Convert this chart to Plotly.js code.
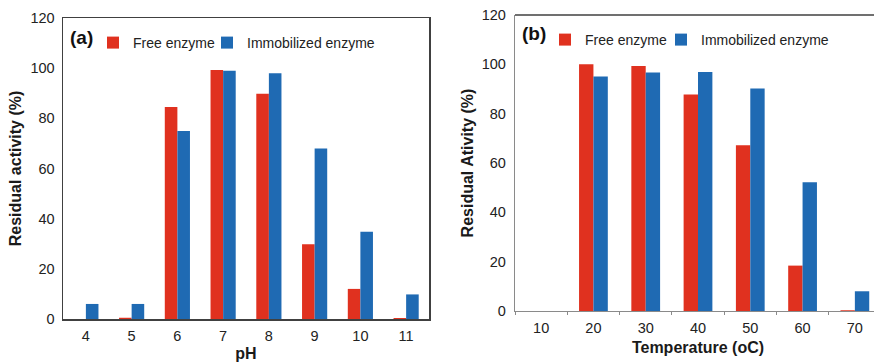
<!DOCTYPE html>
<html>
<head>
<meta charset="utf-8">
<script src="https://cdn.plot.ly/plotly-3.0.1.min.js"></script>
<style>
html,body{margin:0;padding:0;overflow:hidden;background:#fff;}
#chart{width:900px;height:362px;}
</style>
</head>
<body>
<div id="chart"></div>
<script>
// ---- data ----
const phCategories = ["4","5","6","7","8","9","10","11"];
const phFree = [0, 0.5, 84.5, 99.3, 89.8, 29.8, 12, 0.4];
const phImmobilized = [6, 6, 75, 99, 98, 68, 34.8, 9.8];

const tempCategories = ["10","20","30","40","50","60","70"];
const tempFree = [0, 100, 99.3, 87.8, 67.2, 18.4, 0.3];
const tempImmobilized = [0, 95.1, 96.7, 96.9, 90.2, 52.2, 8];

const seriesNames = ["Free enzyme", "Immobilized enzyme"];
const yTicks = [0, 20, 40, 60, 80, 100, 120];

// ---- style ----
const RED = "#e0311f";
const BLUE = "#1f6ab3";
const FONT = "Liberation Sans, Arial, sans-serif";
const W = 900, H = 362;

const traces = [
  {type:"bar", x:phCategories, y:phFree, name:seriesNames[0], marker:{color:RED}, xaxis:"x", yaxis:"y", legend:"legend", showlegend:true},
  {type:"bar", x:phCategories, y:phImmobilized, name:seriesNames[1], marker:{color:BLUE}, xaxis:"x", yaxis:"y", legend:"legend2", showlegend:true},
  {type:"bar", x:tempCategories, y:tempFree, name:seriesNames[0], marker:{color:RED}, xaxis:"x2", yaxis:"y2", legend:"legend3", showlegend:true},
  {type:"bar", x:tempCategories, y:tempImmobilized, name:seriesNames[1], marker:{color:BLUE}, xaxis:"x2", yaxis:"y2", legend:"legend4", showlegend:true}
];

const tickFont = {family:FONT, size:14.5, color:"#222"};
const titleFont = {family:FONT, size:16, color:"#1a1a1a", weight:"bold"};
const legendFont = {family:FONT, size:14, color:"#222"};

function legendAt(xPx, yPx){
  return {
    orientation:"h", x:xPx/W, y:(H-yPx)/H, xanchor:"left", yanchor:"middle",
    font:legendFont, bgcolor:"rgba(0,0,0,0)", itemwidth:30, visible:true
  };
}

const layout = {
  width: W, height: H,
  margin:{l:0, r:0, t:0, b:0},
  paper_bgcolor:"#fff", plot_bgcolor:"#fff",
  showlegend:true,
  barmode:"group", bargap:0.45, bargroupgap:0,
  font:{family:FONT, color:"#222"},
  hovermode:false,
  xaxis:{
    domain:[63/W, 429/W], anchor:"y",
    type:"category", range:[-0.5, 7.5],
    showline:true, linecolor:"#404040", linewidth:1.5, mirror:true,
    ticks:"", showgrid:false, zeroline:false,
    tickfont:tickFont, ticklabelstandoff:3,
    title:{text:"pH", font:titleFont, standoff:14}
  },
  yaxis:{
    domain:[(H-319)/H, (H-18)/H], anchor:"x",
    range:[0, 120], tickvals:yTicks,
    showline:true, linecolor:"#404040", linewidth:1.5, mirror:true,
    ticks:"", showgrid:false, zeroline:false,
    tickfont:tickFont, ticklabelstandoff:4,
    title:{text:"Residual activity (%)", font:titleFont, standoff:5}
  },
  xaxis2:{
    domain:[515/W, 881/W], anchor:"y2",
    type:"category", range:[-0.5, 6.5],
    showline:true, linecolor:"#8a8a8a", linewidth:1.2,
    ticks:"outside", ticklen:3, tickcolor:"#8a8a8a", tickson:"boundaries",
    showgrid:false, zeroline:false,
    tickfont:tickFont, ticklabelstandoff:3,
    title:{text:"Temperature (oC)", font:titleFont, standoff:7}
  },
  yaxis2:{
    domain:[(H-311)/H, (H-15)/H], anchor:"x2",
    range:[0, 120], tickvals:yTicks,
    showline:true, linecolor:"#8a8a8a", linewidth:1.2,
    ticks:"", showgrid:false, zeroline:false,
    tickfont:tickFont, ticklabelstandoff:5,
    title:{text:"Residual Ativity (%)", font:titleFont, standoff:4}
  },
  legend: legendAt(93, 43),
  legend2: legendAt(207, 43),
  legend3: legendAt(545, 40),
  legend4: legendAt(661, 40),
  shapes:[
    {type:"line", xref:"paper", yref:"paper", x0:515/W, x1:1, y0:(H-15)/H, y1:(H-15)/H,
     line:{color:"#404040", width:1.5}}
  ],
  annotations:[
    {text:"(a)", xref:"paper", yref:"paper", x:68/W, y:(H-37)/H, xanchor:"left", yanchor:"middle",
     showarrow:false, font:{family:FONT, size:19, color:"#111", weight:"bold"}},
    {text:"(b)", xref:"paper", yref:"paper", x:520/W, y:(H-34)/H, xanchor:"left", yanchor:"middle",
     showarrow:false, font:{family:FONT, size:19, color:"#111", weight:"bold"}}
  ]
};

Plotly.newPlot("chart", traces, layout, {displayModeBar:false, staticPlot:true});
</script>
</body>
</html>
